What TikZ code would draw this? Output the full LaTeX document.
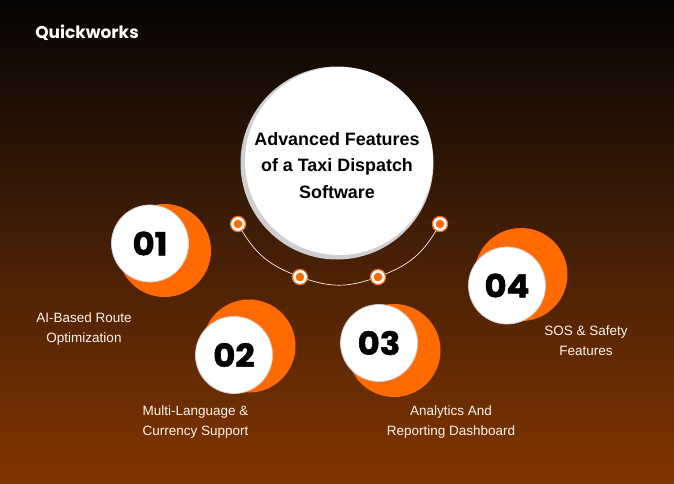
\documentclass[tikz,border=0pt]{standalone}
\usepackage{fontspec}
\setmainfont{Liberation Sans}
\newfontfamily\numfont[BoldFont={Poppins Bold},BoldFeatures={FakeBold=1.6,FakeStretch=1.06}]{Poppins}
\newfontfamily\logofont{Poppins}
\definecolor{bgtop}{HTML}{040404}
\definecolor{bgmid}{HTML}{431E06}
\definecolor{bgbot}{HTML}{813500}
\definecolor{accent}{HTML}{FF6B00}
\definecolor{rimgrey}{HTML}{CFCFD1}
\tikzset{
  x=1pt,y=-1pt,
  orangedisc/.style={circle,fill=accent,minimum size=93pt,inner sep=0pt,outer sep=0pt},
  whitedisc/.style={circle,fill=white,draw=rimgrey,line width=0.8pt,minimum size=77pt,inner sep=0pt,font=\numfont\bfseries\fontsize{32}{32}\selectfont,text=black},
  ringdot/.style={circle,draw=accent,line width=1pt,minimum size=15.5pt,inner sep=0pt},
  labeltext/.style={text=white!92!accent,align=center,font=\fontsize{13.5}{20}\selectfont},
  arcline/.style={draw=white!85!accent,line width=0.7pt},
}
\begin{document}
\begin{tikzpicture}
\useasboundingbox (0,0) rectangle (674,483);
\shade[top color=bgtop,bottom color=bgbot,middle color=bgmid] (0,0) rectangle (674,483);
\node[font=\logofont\bfseries\fontsize{17}{17}\selectfont,text=white] (logo) at (87,33) {Quickworks};
% big circle
\node[circle,fill=rimgrey,minimum size=193pt,inner sep=0pt] (rim) at (337,163) {};
\node[circle,fill=white,minimum size=188pt,inner sep=0pt] (hub) at (339,161) {};
\node[align=center,font=\bfseries\fontsize{17.9}{26.5}\selectfont,text=black] (title) at (337,165.5) {Advanced Features\\of a Taxi Dispatch\\Software};
% small dots
\node[ringdot] (d1) at (238,224) {};
\node[ringdot] (d2) at (300,277) {};
\node[ringdot] (d3) at (378,277) {};
\node[ringdot] (d4) at (440,224) {};
\foreach \n in {d1,d2,d3,d4}{
  \fill[white] (\n.center) circle[radius=7];
  \fill[accent] (\n.center) circle[radius=4.3];
}
\draw[arcline] (d1) to[bend right=18.5] (d2);
\draw[arcline] (d2) to[bend right=18] (d3);
\draw[arcline] (d3) to[bend right=18.5] (d4);
% steps
\node[orangedisc] (o1) at (164.5,250.5) {};
\node[whitedisc] (w1) at (150,243.5) {01};
\node[orangedisc] (o2) at (249,346) {};
\node[whitedisc] (w2) at (234,355) {02};
\node[orangedisc] (o3) at (394,350.5) {};
\node[whitedisc] (w3) at (379,343) {03};
\node[orangedisc] (o4) at (521,274.5) {};
\node[whitedisc] (w4) at (507,285.5) {04};
% labels
\node[labeltext] (l1) at (84,329) {AI-Based Route\\Optimization};
\node[labeltext] (l2) at (195.5,422) {Multi-Language \&\\Currency Support};
\node[labeltext] (l3) at (451,422) {Analytics And\\Reporting Dashboard};
\node[labeltext] (l4) at (586,341) {SOS \& Safety\\Features};
\end{tikzpicture}
\end{document}
